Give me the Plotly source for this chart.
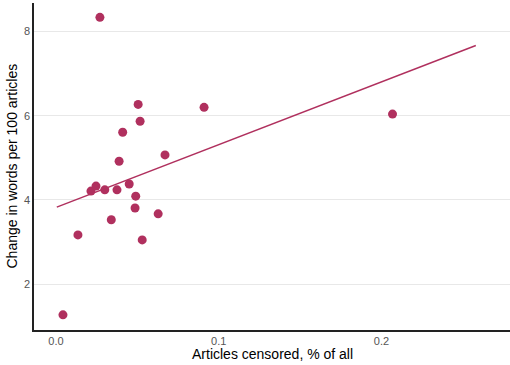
import plotly.graph_objects as go

# share of articles censored vs change in words per 100 articles
censored = [0.0043, 0.0135, 0.0215, 0.0246, 0.0270, 0.0300, 0.0340, 0.0375, 0.0388, 0.0410,
            0.0450, 0.0486, 0.0490, 0.0505, 0.0517, 0.0530, 0.0628, 0.0670, 0.0910, 0.2068]
change = [1.27, 3.17, 4.21, 4.33, 8.34, 4.24, 3.53, 4.24, 4.92, 5.61,
          4.38, 3.81, 4.09, 6.27, 5.87, 3.05, 3.67, 5.07, 6.20, 6.04]

# fitted line end points
fit_x = [0.0005, 0.258]
fit_y = [3.83, 7.67]

COLOR = "#b0305e"

fig = go.Figure()
fig.add_trace(go.Scatter(x=fit_x, y=fit_y, mode="lines",
                         line=dict(color=COLOR, width=1.5), showlegend=False))
fig.add_trace(go.Scatter(x=censored, y=change, mode="markers",
                         marker=dict(color=COLOR, size=9), showlegend=False))

fig.update_layout(
    width=510, height=365,
    margin=dict(l=34, r=0, t=3, b=35),
    plot_bgcolor="white", paper_bgcolor="white",
    font=dict(family="Liberation Sans, Arial", color="black"),
)
fig.update_xaxes(
    range=[-0.0135, 0.279], tickvals=[0.0, 0.1, 0.2], ticktext=["0.0", "0.1", "0.2"],
    showgrid=False, zeroline=False, showline=True, linecolor="#222", linewidth=1.5,
    ticks="", tickfont=dict(size=11, color="#555"), automargin=False,
)
fig.update_yaxes(
    range=[0.91, 8.68], tickvals=[2, 4, 6, 8],
    showgrid=True, gridcolor="#e8e8e8", gridwidth=1, zeroline=False,
    showline=True, linecolor="#222", linewidth=1.5,
    ticks="", tickfont=dict(size=11, color="#555"), automargin=False,
)

# axis titles as annotations so the margins stay fixed
fig.add_annotation(text="Articles censored, % of all", xref="paper", yref="paper",
                   x=0.5, y=0, yshift=-34, showarrow=False, xanchor="center", yanchor="bottom",
                   font=dict(size=14))
fig.add_annotation(text="Change in words per 100 articles", xref="paper", yref="paper",
                   x=0, y=0.5, xshift=-33, textangle=-90, showarrow=False,
                   xanchor="left", yanchor="middle", font=dict(size=14))

# drop the default page margin so the figure sits at the window corner
fig.write_html("out.html", config={"displayModeBar": False},
               post_script="document.body.style.margin='0';")
